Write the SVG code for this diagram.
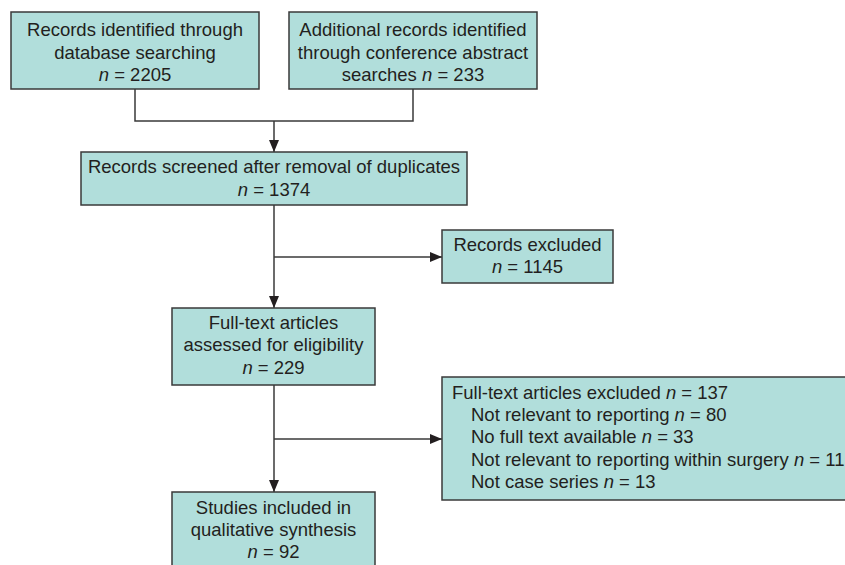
<svg xmlns="http://www.w3.org/2000/svg" width="845" height="565" viewBox="0 0 845 565">
<style>
.box{fill:#b1dedb;stroke:#3a3a3a;stroke-width:1.5}
text{font-family:"Liberation Sans",Arial,sans-serif;font-size:18.5px;fill:#231f20}
.c{text-anchor:middle}
.i{font-style:italic}
.ln{fill:none;stroke:#3a3a3a;stroke-width:1.5}
</style>
<defs>
<marker id="ah" markerWidth="12" markerHeight="10" refX="12" refY="5" orient="auto" markerUnits="userSpaceOnUse">
<path d="M0,0 L12,5 L0,10 Z" fill="#231f20"/>
</marker>
</defs>
<g id="connectors">
<path class="ln" d="M135,89 V121 H413 V89"/>
<path class="ln" d="M274,121 V152" marker-end="url(#ah)"/>
<path class="ln" d="M274,205 V308" marker-end="url(#ah)"/>
<path class="ln" d="M274,257 H442" marker-end="url(#ah)"/>
<path class="ln" d="M274,385 V492" marker-end="url(#ah)"/>
<path class="ln" d="M274,439 H442" marker-end="url(#ah)"/>
</g>
<g id="n1">
<rect class="box" x="11" y="12" width="248" height="77"/>
<text class="c" x="135" y="36">Records identified through</text>
<text class="c" x="135" y="59">database searching</text>
<text class="c" x="135" y="81"><tspan class="i">n</tspan> = 2205</text>
</g>
<g id="n2">
<rect class="box" x="289" y="12" width="248" height="77"/>
<text class="c" x="413" y="36">Additional records identified</text>
<text class="c" x="413" y="59">through conference abstract</text>
<text class="c" x="413" y="81">searches <tspan class="i">n</tspan> = 233</text>
</g>
<g id="n3">
<rect class="box" x="81" y="152" width="386" height="53"/>
<text class="c" x="274" y="173">Records screened after removal of duplicates</text>
<text class="c" x="274" y="196"><tspan class="i">n</tspan> = 1374</text>
</g>
<g id="n4">
<rect class="box" x="172" y="308" width="203" height="77"/>
<text class="c" x="273.5" y="329">Full-text articles</text>
<text class="c" x="273.5" y="351">assessed for eligibility</text>
<text class="c" x="273.5" y="374"><tspan class="i">n</tspan> = 229</text>
</g>
<g id="n5">
<rect class="box" x="442" y="230" width="171" height="53"/>
<text class="c" x="527.5" y="251">Records excluded</text>
<text class="c" x="527.5" y="273"><tspan class="i">n</tspan> = 1145</text>
</g>
<g id="n6">
<rect class="box" x="442" y="377" width="410" height="123"/>
<text x="452" y="399">Full-text articles excluded <tspan class="i">n</tspan> = 137</text>
<text x="471" y="421">Not relevant to reporting <tspan class="i">n</tspan> = 80</text>
<text x="471" y="443">No full text available <tspan class="i">n</tspan> = 33</text>
<text x="471" y="466">Not relevant to reporting within surgery <tspan class="i">n</tspan> = 11</text>
<text x="471" y="488">Not case series <tspan class="i">n</tspan> = 13</text>
</g>
<g id="n7">
<rect class="box" x="172" y="492" width="203" height="80"/>
<text class="c" x="273.5" y="514">Studies included in</text>
<text class="c" x="273.5" y="536">qualitative synthesis</text>
<text class="c" x="273.5" y="558"><tspan class="i">n</tspan> = 92</text>
</g>
</svg>
